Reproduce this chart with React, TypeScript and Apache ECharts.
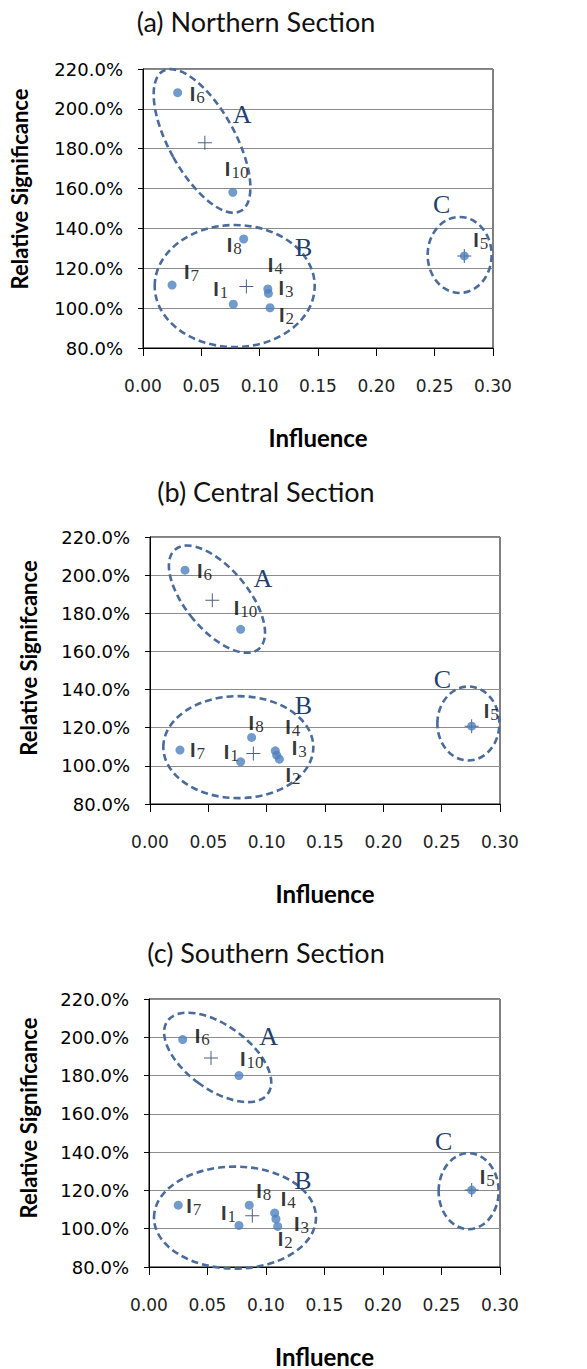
import React, { useEffect, useRef } from "react";
import * as echarts from "echarts";

// ---------- data ----------
const pointLabels = ["1", "2", "3", "4", "5", "6", "7", "8", "10"];

const northInfluence = [0.0774, 0.1089, 0.1075, 0.107, 0.2754, 0.0297, 0.0249, 0.0863, 0.077];
const northSignificance = [102.0, 100.2, 107.4, 109.6, 126.2, 208.1, 111.6, 134.7, 158.1];

const centralInfluence = [0.0777, 0.1109, 0.1086, 0.1074, 0.2757, 0.03, 0.0257, 0.0871, 0.0777];
const centralSignificance = [102.1, 103.5, 105.6, 107.9, 120.8, 202.6, 108.3, 114.9, 171.6];

const southInfluence = [0.0769, 0.11, 0.1085, 0.1074, 0.2758, 0.0288, 0.025, 0.0857, 0.0769];
const southSignificance = [101.7, 101.2, 105.1, 108.2, 120.2, 198.8, 112.3, 112.3, 180.0];

const clusterNames = ["A", "B", "C"];

const northCentroidInfluence = [0.053, 0.0886, 0.2754];
const northCentroidSignificance = [183.0, 110.8, 126.2];
const centralCentroidInfluence = [0.0534, 0.0886, 0.2757];
const centralCentroidSignificance = [186.8, 106.5, 120.8];
const southCentroidInfluence = [0.053, 0.0883, 0.2758];
const southCentroidSignificance = [189.2, 106.8, 120.2];

const northClusterInfluence = [0.0506, 0.0786, 0.2714];
const northClusterSignificance = [183.9, 111.1, 126.7];
const centralClusterInfluence = [0.0574, 0.0757, 0.2729];
const centralClusterSignificance = [187.4, 109.8, 122.2];
const southClusterInfluence = [0.0587, 0.0735, 0.2732];
const southClusterSignificance = [189.5, 105.8, 119.6];

const sectionTitles = ["(a) Northern Section", "(b) Central Section", "(c) Southern Section"];
const yAxisNames = ["Relative Significance", "Relative Signifcance", "Relative Significance"];
const xAxisName = "Influence";

// ---------- layout / styles ----------
const grids = [
  { left: 143, top: 69, width: 350, height: 279 },
  { left: 150, top: 537, width: 350, height: 267 },
  { left: 149, top: 999, width: 351, height: 273 },
];
const titlePos = [
  { x: 256, y: 22 },
  { x: 266, y: 492 },
  { x: 266, y: 953 },
];
const yNamePos = [
  { x: 19, y: 189 },
  { x: 28, y: 658 },
  { x: 28, y: 1118 },
];

// ellipse outlines (pixels): rx, ry, rotation deg (ccw), letter offset
const ellipseShapes = [
  [
    { rx: 33, ry: 80, rot: 29, lx: 40, ly: -26 },
    { rx: 80, ry: 61, rot: 0, lx: 69, ly: -39 },
    { rx: 32, ry: 38, rot: 0, lx: -18, ly: -50 },
  ],
  [
    { rx: 31, ry: 65, rot: 40, lx: 46, ly: -21 },
    { rx: 75, ry: 51, rot: 0, lx: 65, ly: -42 },
    { rx: 31, ry: 37, rot: 0, lx: -26, ly: -44 },
  ],
  [
    { rx: 32, ry: 62, rot: 54, lx: 51, ly: -21 },
    { rx: 81, ry: 51, rot: 0, lx: 68, ly: -37 },
    { rx: 30, ry: 38, rot: 0, lx: -25, ly: -50 },
  ],
];

// label offsets (left edge of "I", vertical centre of "I") relative to point
const labelOffsets = [
  [[-20, -14], [9, 8], [10, -4], [0, -23], [9, -15], [12, 2], [12, -12], [-17, 7], [-8, -22]],
  [[-17, -9], [6, 17], [15, -6], [10, -23], [12, -14], [12, 2], [10, 1], [-3, -13], [-7, -20]],
  [[-18, -11], [0, 14], [18, 6], [6, -13], [8, -12], [12, -3], [8, 2], [7, -13], [1, -16]],
];

const POINT_COLOR = "#4F81BD";
const CROSS_COLOR = "#1F3864";
const ELLIPSE_COLOR = "#4A6B9B";
const LETTER_COLOR = "#243F6E";
const SYMBOL = 9;
const I_SIZE = 20;

const crossPath = "path://M0,6.5 H14 V7.5 H0 Z M6.5,0 H7.5 V14 H6.5 Z";

const panels = [
  {
    xs: northInfluence, ys: northSignificance,
    cx: northCentroidInfluence, cy: northCentroidSignificance,
    ex: northClusterInfluence, ey: northClusterSignificance,
  },
  {
    xs: centralInfluence, ys: centralSignificance,
    cx: centralCentroidInfluence, cy: centralCentroidSignificance,
    ex: centralClusterInfluence, ey: centralClusterSignificance,
  },
  {
    xs: southInfluence, ys: southSignificance,
    cx: southCentroidInfluence, cy: southCentroidSignificance,
    ex: southClusterInfluence, ey: southClusterSignificance,
  },
];

function buildOption() {
  const series: any[] = [];
  const xAxes: any[] = [];
  const yAxes: any[] = [];
  const titles: any[] = [];
  const graphics: any[] = [];

  panels.forEach((p, i) => {
    titles.push({
      text: sectionTitles[i],
      left: titlePos[i].x,
      top: titlePos[i].y - 14,
      textAlign: "center",
      padding: 0,
      textStyle: { fontFamily: "Lato", fontWeight: "normal", fontSize: 27, color: "#111" },
    });

    graphics.push({
      type: "text",
      x: yNamePos[i].x,
      y: yNamePos[i].y,
      rotation: Math.PI / 2,
      style: {
        text: yAxisNames[i],
        fontFamily: "Lato",
        fontWeight: "bold",
        fontSize: 22,
        fill: "#000",
        align: "center",
        verticalAlign: "middle",
      },
    });

    xAxes.push({
      gridIndex: i,
      type: "value",
      min: 0,
      max: 0.3,
      interval: 0.05,
      axisLine: { show: true, lineStyle: { color: "#000", width: 1 } },
      axisTick: { show: true, length: 8, lineStyle: { color: "#000" } },
      axisLabel: {
        formatter: (v: number) => v.toFixed(2),
        fontFamily: "DejaVu Sans",
        fontSize: 17,
        color: "#222",
        margin: 29,
      },
      splitLine: { show: false },
      name: xAxisName,
      nameLocation: "middle",
      nameGap: 77,
      nameTextStyle: { fontFamily: "Lato", fontWeight: "bold", fontSize: 24, color: "#000" },
    });

    yAxes.push({
      gridIndex: i,
      type: "value",
      min: 80,
      max: 220,
      interval: 20,
      axisLine: { show: true, lineStyle: { color: "#000", width: 1 } },
      axisTick: { show: true, length: 5, lineStyle: { color: "#000" } },
      axisLabel: {
        formatter: (v: number) => v.toFixed(1) + "%",
        fontFamily: "DejaVu Sans",
        fontSize: 18,
        color: "#000",
        margin: 20,
      },
      splitLine: { show: true, lineStyle: { color: "#8C8C8C", width: 1 } },
    });

    // cluster ellipses + letters
    series.push({
      type: "custom",
      xAxisIndex: i,
      yAxisIndex: i,
      clip: false,
      silent: true,
      z: 3,
      encode: { x: 0, y: 1 },
      data: p.ex.map((x, k) => [x, p.ey[k]]),
      renderItem: (params: any, api: any) => {
        const c = api.coord([api.value(0), api.value(1)]);
        const g = ellipseShapes[i][params.dataIndex];
        return {
          type: "group",
          children: [
            {
              type: "ellipse",
              x: c[0],
              y: c[1],
              rotation: (g.rot * Math.PI) / 180,
              shape: { cx: 0, cy: 0, rx: g.rx, ry: g.ry },
              style: { fill: "none", stroke: ELLIPSE_COLOR, lineWidth: 2.6, lineDash: [7, 4] },
            },
            {
              type: "text",
              x: c[0] + g.lx,
              y: c[1] + g.ly,
              style: {
                text: clusterNames[params.dataIndex],
                fill: LETTER_COLOR,
                fontFamily: "Liberation Serif",
                fontSize: 26,
                align: "center",
                verticalAlign: "middle",
              },
            },
          ],
        };
      },
    });

    // centroids (crosses)
    series.push({
      type: "scatter",
      xAxisIndex: i,
      yAxisIndex: i,
      symbol: crossPath,
      symbolSize: 14,
      z: 4,
      itemStyle: { color: CROSS_COLOR },
      data: p.cx.map((x, k) => [x, p.cy[k]]),
    });

    // indicator points
    series.push({
      type: "scatter",
      xAxisIndex: i,
      yAxisIndex: i,
      symbol: "circle",
      symbolSize: SYMBOL,
      z: 5,
      itemStyle: { color: POINT_COLOR },
      data: p.xs.map((x, k) => ({
        value: [x, p.ys[k]],
        name: "I" + pointLabels[k],
        label: {
          show: true,
          position: [SYMBOL / 2 + labelOffsets[i][k][0], SYMBOL / 2 + labelOffsets[i][k][1] - 11],
          align: "left",
          verticalAlign: "top",
          formatter: "{i|I}{s|" + pointLabels[k] + "}",
          rich: {
            i: {
              fontFamily: "Liberation Sans",
              fontWeight: "bold",
              fontSize: I_SIZE,
              lineHeight: 22,
              verticalAlign: "top",
              color: "#000",
            },
            s: {
              fontFamily: "Liberation Serif",
              fontSize: 17,
              lineHeight: 17,
              verticalAlign: "bottom",
              padding: [11, 0, 0, 1],
              color: "#000",
            },
          },
        },
      })),
    });
  });

  return {
    animation: false,
    backgroundColor: "#fff",
    title: titles,
    graphic: graphics,
    grid: grids.map((g) => ({ ...g, show: true, borderColor: "#000", borderWidth: 1, containLabel: false })),
    xAxis: xAxes,
    yAxis: yAxes,
    series,
  };
}

export default function App() {
  const ref = useRef<HTMLDivElement>(null);
  useEffect(() => {
    if (!ref.current) return;
    const chart = echarts.init(ref.current, undefined, { renderer: "svg" });
    chart.setOption(buildOption() as any);
    return () => chart.dispose();
  }, []);
  return (
    <div
      ref={ref}
      style={{ position: "absolute", left: 0, top: 0, width: 587, height: 1369, background: "#fff" }}
    />
  );
}
